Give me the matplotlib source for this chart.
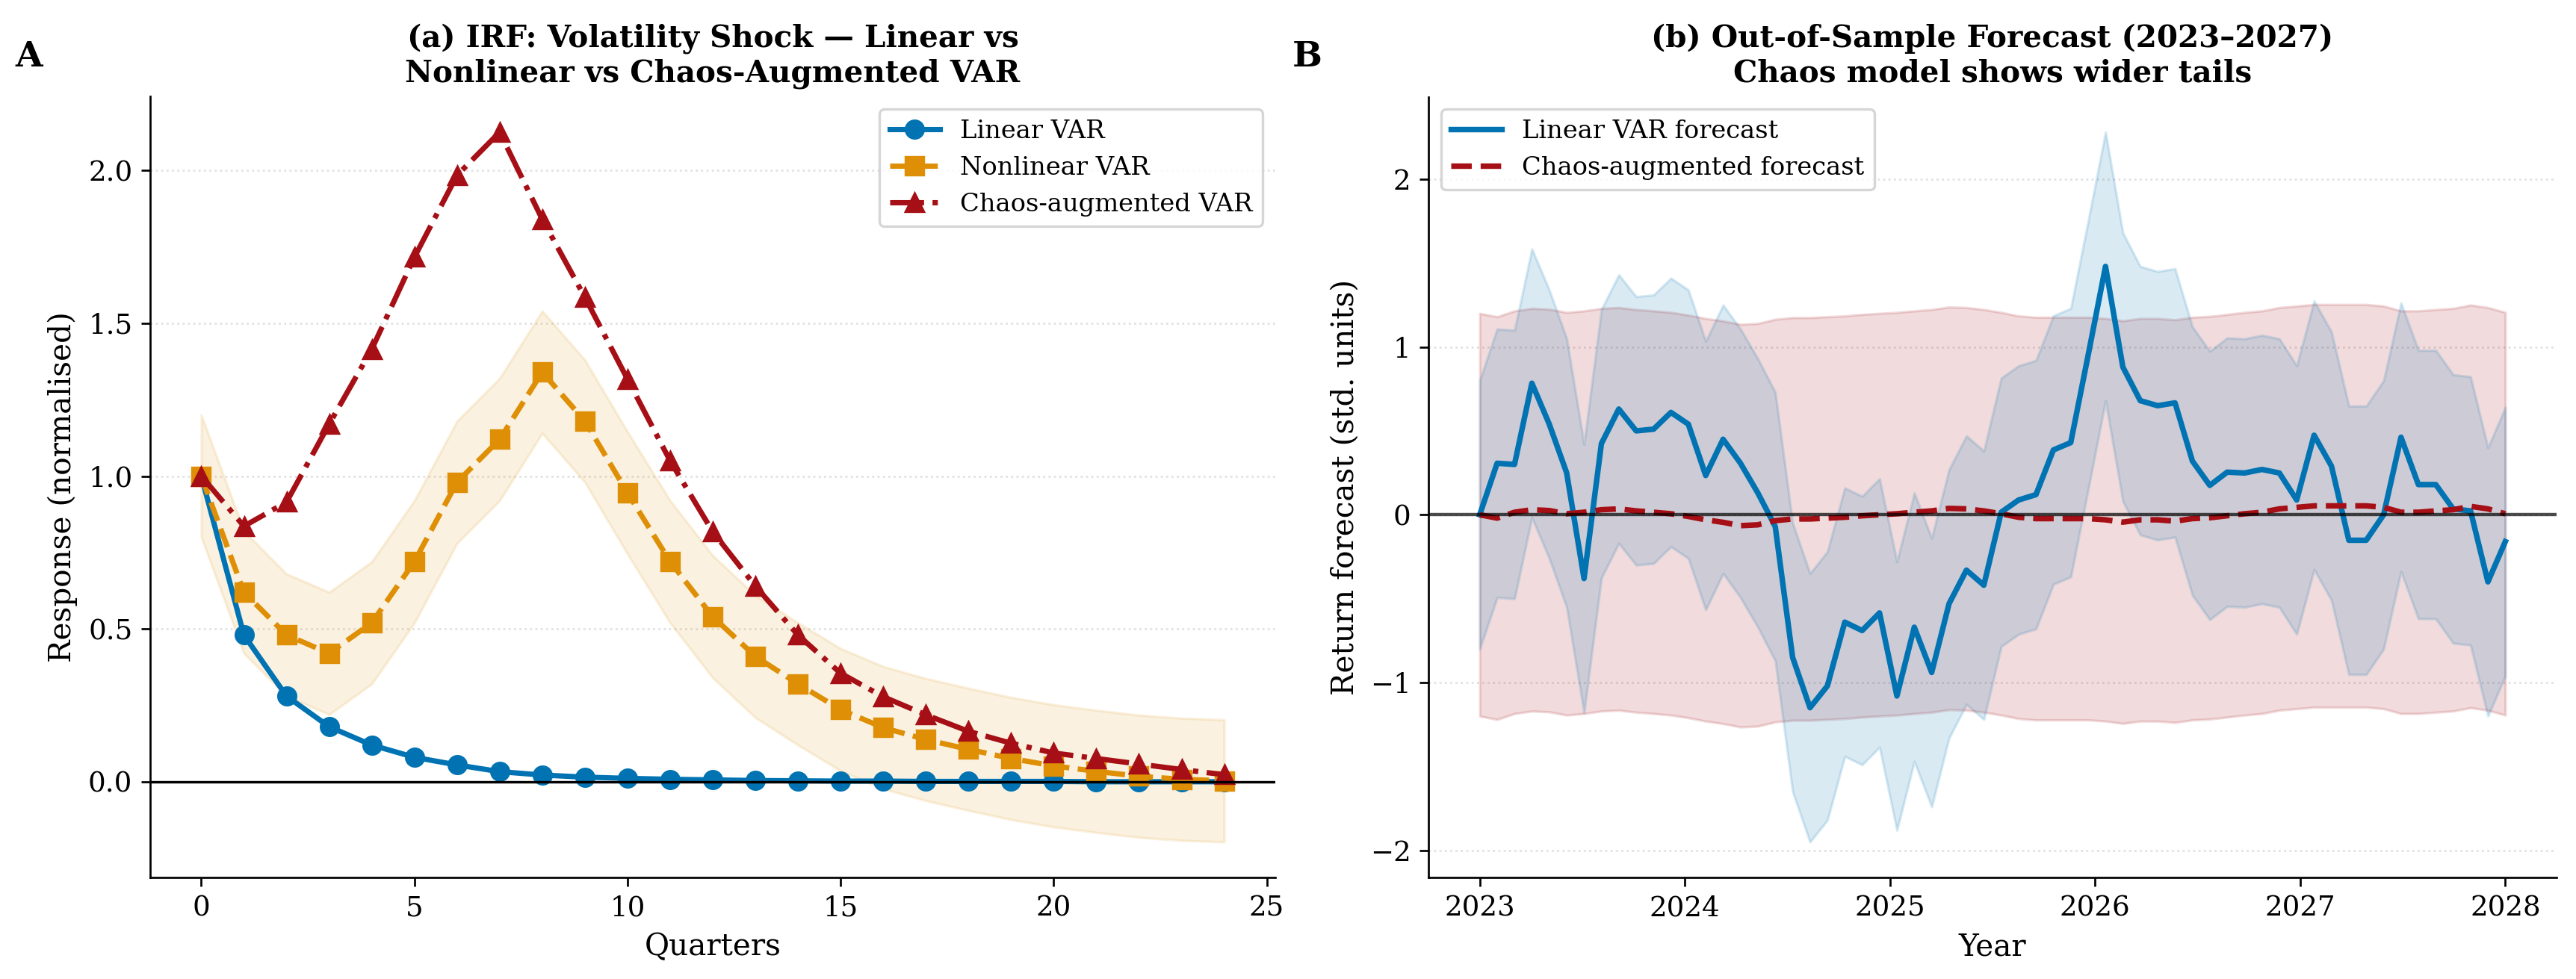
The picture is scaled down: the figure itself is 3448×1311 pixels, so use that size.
import numpy as np
import matplotlib
matplotlib.use("Agg")
import matplotlib.pyplot as plt

# ---------------- Data: panel (a) impulse responses ----------------
quarters = list(range(25))
linear_irf = [1.00, 0.48, 0.28, 0.18, 0.12, 0.08, 0.055, 0.033, 0.022, 0.015,
              0.011, 0.008, 0.006, 0.004, 0.003, 0.002, 0.002, 0.001, 0.001,
              0.001, 0.001, 0.0, 0.0, 0.0, 0.0]
nonlinear_irf = [1.00, 0.62, 0.48, 0.42, 0.52, 0.72, 0.98, 1.12, 1.34, 1.18,
                 0.945, 0.72, 0.54, 0.41, 0.32, 0.236, 0.177, 0.138, 0.106,
                 0.076, 0.052, 0.034, 0.018, 0.008, 0.003]
chaos_irf = [1.00, 0.836, 0.915, 1.17, 1.415, 1.716, 1.984, 2.125, 1.84, 1.585,
             1.317, 1.05, 0.818, 0.64, 0.48, 0.355, 0.278, 0.219, 0.165, 0.126,
             0.094, 0.076, 0.058, 0.04, 0.023]
nonlinear_band_halfwidth = 0.20
quarter_ticks = [0, 5, 10, 15, 20, 25]

# ---------------- Data: panel (b) forecasts ----------------
forecast_start, forecast_end, n_periods = 2023, 2028, 60
linear_fc = [0.00, 0.307, 0.30, 0.784, 0.54, 0.25, -0.38, 0.424, 0.63, 0.50,
             0.51, 0.61, 0.54, 0.234, 0.45, 0.307, 0.13, -0.07, -0.85, -1.15,
             -1.02, -0.64, -0.69, -0.585, -1.08, -0.67, -0.94, -0.53, -0.33, -0.42,
             0.015, 0.088, 0.12, 0.386, 0.43, 0.95, 1.48, 0.88, 0.68, 0.65,
             0.667, 0.32, 0.175, 0.254, 0.249, 0.27, 0.249, 0.088, 0.474, 0.29,
             -0.152, -0.152, 0.0, 0.462, 0.18, 0.18, 0.035, 0.023, -0.40, -0.16]
chaos_fc = [0.0, -0.02, 0.015, 0.03, 0.025, 0.006, 0.015, 0.03, 0.035, 0.023,
            0.015, 0.006, -0.01, -0.03, -0.045, -0.065, -0.06, -0.035, -0.025, -0.025,
            -0.02, -0.015, -0.006, 0.0, 0.006, 0.015, 0.023, 0.038, 0.035, 0.023,
            0.006, -0.015, -0.023, -0.023, -0.023, -0.023, -0.03, -0.044, -0.03, -0.03,
            -0.038, -0.023, -0.018, -0.006, 0.006, 0.015, 0.035, 0.044, 0.053, 0.053,
            0.053, 0.053, 0.044, 0.015, 0.015, 0.023, 0.03, 0.05, 0.035, 0.006]
linear_band_halfwidth = 0.80
chaos_band_halfwidth = 1.20
year_ticks = [2023, 2024, 2025, 2026, 2027, 2028]
return_ticks = [-2, -1, 0, 1, 2]

# ---------------- Style ----------------
plt.rcParams['font.family'] = ['DejaVu Serif']
BLUE = '#0173B2'
ORANGE = '#DE8F05'
RED = '#A50F15'

W, H = 3448, 1311
DPI = 243
fig = plt.figure(figsize=(W / DPI, H / DPI), dpi=DPI)

def px_axes(left, right, top, bottom):
    return fig.add_axes([left / W, 1 - bottom / H, (right - left) / W, (bottom - top) / H])

axA = px_axes(201, 1707, 129.5, 1175)
axB = px_axes(1912, 3422, 129.5, 1175)

TICK_FS = 11
LABEL_FS = 12
TITLE_FS = 12
LEG_FS = 10

# ---------------- Panel (a) ----------------
q = np.array(quarters)
nl = np.array(nonlinear_irf)
axA.fill_between(q, nl - nonlinear_band_halfwidth, nl + nonlinear_band_halfwidth,
                 color=ORANGE, alpha=0.12)
axA.plot(q, linear_irf, '-', marker='o', color=BLUE, lw=2.1, ms=7, label='Linear VAR')
axA.plot(q, nonlinear_irf, '--', marker='s', color=ORANGE, lw=2.1, ms=7, label='Nonlinear VAR')
axA.plot(q, chaos_irf, '-.', marker='^', color=RED, lw=2.1, ms=7, label='Chaos-augmented VAR')
axA.axhline(0, color='black', lw=1.0)
axA.set_xticks(quarter_ticks)
axA.set_xlabel('Quarters', fontsize=LABEL_FS)
axA.set_ylabel('Response (normalised)', fontsize=LABEL_FS)
axA.set_title('(a) IRF: Volatility Shock — Linear vs\nNonlinear vs Chaos-Augmented VAR',
              fontsize=TITLE_FS, fontweight='bold')
axA.legend(loc='upper right', fontsize=LEG_FS)

# ---------------- Panel (b) ----------------
t = np.linspace(forecast_start, forecast_end, n_periods)
lf = np.array(linear_fc)
cf = np.array(chaos_fc)
axB.fill_between(t, cf - chaos_band_halfwidth, cf + chaos_band_halfwidth,
                 color=RED, alpha=0.15)
axB.fill_between(t, lf - linear_band_halfwidth, lf + linear_band_halfwidth,
                 color=BLUE, alpha=0.15)
axB.plot(t, linear_fc, '-', color=BLUE, lw=2.2, label='Linear VAR forecast')
axB.plot(t, chaos_fc, '--', color=RED, lw=2.2, label='Chaos-augmented forecast')
axB.axhline(0, color='black', lw=1.3, alpha=0.7)
axB.set_xticks(year_ticks)
axB.set_xticklabels([str(y) for y in year_ticks])
axB.set_yticks(return_ticks)
axB.set_xlabel('Year', fontsize=LABEL_FS)
axB.set_ylabel('Return forecast (std. units)', fontsize=LABEL_FS)
axB.set_title('(b) Out-of-Sample Forecast (2023–2027)\nChaos model shows wider tails',
              fontsize=TITLE_FS, fontweight='bold')
axB.legend(loc='upper left', fontsize=LEG_FS)

for ax in (axA, axB):
    ax.spines['top'].set_visible(False)
    ax.spines['right'].set_visible(False)
    ax.tick_params(labelsize=TICK_FS)
    ax.yaxis.grid(True, linestyle=':', color='#cccccc', lw=0.8, alpha=0.6)
    ax.set_axisbelow(True)

fig.text(39 / W, 1 - 76 / H, 'A', fontsize=14, fontweight='bold', ha='center', va='center')
fig.text(1750 / W, 1 - 76 / H, 'B', fontsize=14, fontweight='bold', ha='center', va='center')

fig.savefig('out.png', dpi=DPI)
